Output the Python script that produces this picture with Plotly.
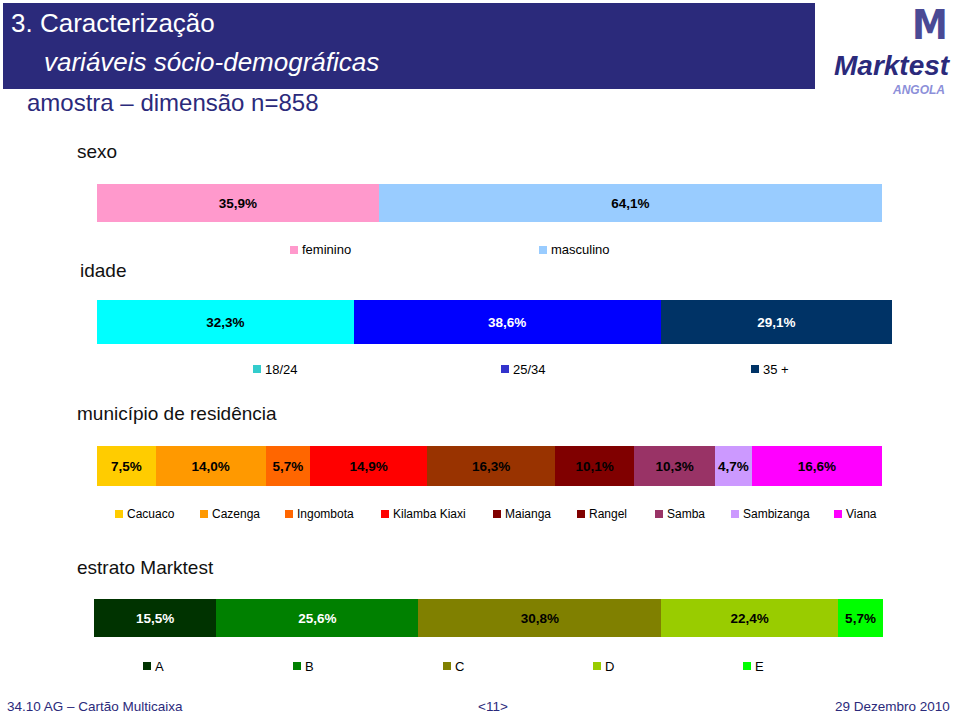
import plotly.graph_objects as go

W, H = 960, 715

# ---------------- data ----------------
sexo_cats = ["feminino", "masculino"]
sexo_vals = [35.9, 64.1]
sexo_cols = ["#FF99CC", "#99CCFF"]
sexo_leg_cols = ["#FF99CC", "#99CCFF"]
sexo_txt_cols = ["#000000", "#000000"]

idade_cats = ["18/24", "25/34", "35 +"]
idade_vals = [32.3, 38.6, 29.1]
idade_cols = ["#00FFFF", "#0000FF", "#003366"]
idade_leg_cols = ["#33CCCC", "#3333CC", "#003366"]
idade_txt_cols = ["#000000", "#FFFFFF", "#FFFFFF"]

mun_cats = ["Cacuaco", "Cazenga", "Ingombota", "Kilamba Kiaxi", "Maianga",
            "Rangel", "Samba", "Sambizanga", "Viana"]
mun_vals = [7.5, 14.0, 5.7, 14.9, 16.3, 10.1, 10.3, 4.7, 16.6]
mun_cols = ["#FFCC00", "#FF9900", "#FF6600", "#FF0000", "#993300",
            "#800000", "#993366", "#CC99FF", "#FF00FF"]
mun_leg_cols = ["#FFCC00", "#FF9900", "#FF6600", "#FF0000", "#800000",
                "#800000", "#993366", "#CC99FF", "#FF00FF"]
mun_txt_cols = ["#000000"] * 9

estr_cats = ["A", "B", "C", "D", "E"]
estr_vals = [15.5, 25.6, 30.8, 22.4, 5.7]
estr_cols = ["#003300", "#008000", "#808000", "#99CC00", "#00FF00"]
estr_leg_cols = estr_cols
estr_txt_cols = ["#FFFFFF", "#FFFFFF", "#000000", "#000000", "#000000"]

NAVY = "#2B2A7B"
SANS = "Liberation Sans, Arial, Helvetica, sans-serif"


def fx(x):
    return x / W


def fy(y):
    return 1 - y / H


def pct(v):
    return f"{v:.1f}%".replace(".", ",")


groups = [
    dict(cats=sexo_cats, vals=sexo_vals, cols=sexo_cols, leg=sexo_leg_cols, txt=sexo_txt_cols,
         box=(97, 882, 184, 222), ls=13.5, ly=250, lx=[290, 539], ts=13),
    dict(cats=idade_cats, vals=idade_vals, cols=idade_cols, leg=idade_leg_cols, txt=idade_txt_cols,
         box=(97, 892, 300, 344), ls=13.5, ly=369, lx=[253, 501, 751], ts=13),
    dict(cats=mun_cats, vals=mun_vals, cols=mun_cols, leg=mun_leg_cols, txt=mun_txt_cols,
         box=(97, 882, 446, 486), ls=13.5, ly=514,
         lx=[115, 200, 285, 381, 493, 577, 655, 731, 834], ts=12),
    dict(cats=estr_cats, vals=estr_vals, cols=estr_cols, leg=estr_leg_cols, txt=estr_txt_cols,
         box=(94, 883, 599, 637), ls=13.5, ly=666, lx=[143, 293, 443, 593, 743], ts=13),
]

fig = go.Figure()
shapes = []
annotations = []

layout_axes = {}
for gi, g in enumerate(groups, start=1):
    xname = "x" if gi == 1 else f"x{gi}"
    yname = "y" if gi == 1 else f"y{gi}"
    x0, x1, y0, y1 = g["box"]
    total = sum(g["vals"])
    for cat, v, c, tc in zip(g["cats"], g["vals"], g["cols"], g["txt"]):
        fig.add_trace(go.Bar(
            x=[v], y=[0], orientation="h", name=cat, width=1,
            marker=dict(color=c, line=dict(width=0)),
            text=[pct(v)], textposition="inside", insidetextanchor="middle",
            textangle=0, constraintext="none",
            textfont=dict(family=SANS, size=g["ls"], color=tc, weight="bold"),
            xaxis=xname, yaxis=yname, showlegend=False, hoverinfo="name+x",
        ))
    layout_axes[f"xaxis{gi if gi > 1 else ''}"] = dict(
        domain=[fx(x0), fx(x1)], range=[0, total], visible=False,
        anchor=yname, fixedrange=True)
    layout_axes[f"yaxis{gi if gi > 1 else ''}"] = dict(
        domain=[fy(y1), fy(y0)], range=[-0.5, 0.5], visible=False,
        anchor=xname, fixedrange=True)
    # custom legend
    for cat, lc, lx in zip(g["cats"], g["leg"], g["lx"]):
        shapes.append(dict(type="rect", xref="paper", yref="paper",
                           x0=fx(lx), x1=fx(lx + 8), y0=fy(g["ly"] + 4), y1=fy(g["ly"] - 4),
                           fillcolor=lc, line=dict(width=0)))
        annotations.append(dict(text=cat, xref="paper", yref="paper",
                                x=fx(lx + 10), y=fy(g["ly"]), xanchor="left", yanchor="middle",
                                showarrow=False,
                                font=dict(family=SANS, size=g["ts"], color="#000000")))

# header banner
shapes.append(dict(type="rect", xref="paper", yref="paper", x0=fx(3), x1=fx(815),
                   y0=fy(89), y1=fy(3), fillcolor=NAVY, line=dict(width=0), layer="below"))


def txt(s, x, y, size, color="#000000", family=SANS, xanchor="left", italic=False, bold=False):
    f = dict(family=family, size=size, color=color)
    if italic:
        f["style"] = "italic"
    if bold:
        f["weight"] = "bold"
    annotations.append(dict(text=s, xref="paper", yref="paper", x=fx(x), y=fy(y),
                            xanchor=xanchor, yanchor="middle", showarrow=False, font=f,
                            borderpad=0))


txt("3. Caracterização", 10, 23, 26, "#FFFFFF")
txt("variáveis sócio-demográficas", 43, 62, 26, "#FFFFFF", italic=True)
txt("amostra – dimensão n=858", 26, 103, 24, NAVY)

# logo
txt("M", 930, 25, 40, "#4A4A95", family="DejaVu Sans Condensed", xanchor="center", bold=True)
txt("Marktest", 952, 65, 28, NAVY, xanchor="right", italic=True, bold=True)
txt("ANGOLA", 946, 90, 12, "#8C8FD9", xanchor="right", italic=True, bold=True)

# section titles
txt("sexo", 76, 152, 19, "#111111")
txt("idade", 79, 270, 19, "#111111")
txt("município de residência", 76, 413, 19, "#111111")
txt("estrato Marktest", 76, 567, 19, "#111111")

# footer
txt("34.10 AG – Cartão Multicaixa", 6, 706, 13.5, NAVY)
txt("<11>", 493, 706, 13.5, NAVY, xanchor="center")
txt("29 Dezembro 2010", 951, 706, 13.5, NAVY, xanchor="right")

fig.update_layout(
    width=W, height=H, margin=dict(l=0, r=0, t=0, b=0),
    paper_bgcolor="#FFFFFF", plot_bgcolor="rgba(0,0,0,0)",
    barmode="stack", showlegend=False,
    shapes=shapes, annotations=annotations,
    **layout_axes,
)

fig.write_html("out.html", config={"displayModeBar": False})
